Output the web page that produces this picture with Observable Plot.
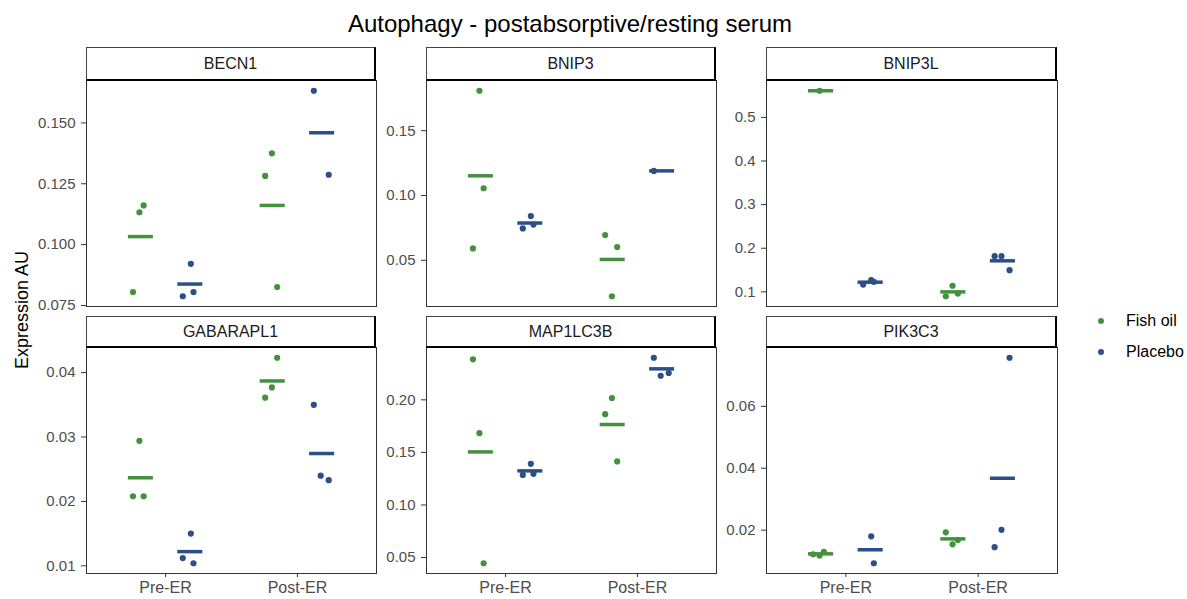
<!DOCTYPE html>
<html>
<head>
<meta charset="utf-8">
<script src="https://cdn.jsdelivr.net/npm/d3@7"></script>
<script src="https://cdn.jsdelivr.net/npm/@observablehq/plot@0.6"></script>
<style>
  body { margin: 0; background: #fff; font-family: "Liberation Sans", Arial, sans-serif; }
  #chart { position: relative; width: 1187px; height: 599px; overflow: hidden; }
  .title { position: absolute; left: 0; width: 1140px; top: 10px; text-align: center; font-size: 24px; color: #000; }
  .ylab { position: absolute; left: 22px; top: 310px; transform: translate(-50%, -50%) rotate(-90deg); font-size: 18px; color: #000; white-space: nowrap; }
  .strip { position: absolute; box-sizing: border-box; border: 1px solid #444; border-right: 2px solid #000; border-bottom: 2px solid #000;
           display: flex; align-items: center; justify-content: center; font-size: 16px; color: #1a1a1a; background: #fff; }
  .panel { position: absolute; }
  .legend { position: absolute; left: 1095px; top: 305px; font-size: 16px; color: #000; }
  .legend .item { display: flex; align-items: center; height: 31px; }
  .legend .dot { width: 6px; height: 6px; border-radius: 50%; margin: 0 22px 0 3px; }
</style>
</head>
<body>
<div id="chart"></div>
<script>
const genes = ["BECN1", "BNIP3", "BNIP3L", "GABARAPL1", "MAP1LC3B", "PIK3C3"];
const timepoints = ["Pre-ER", "Post-ER"];
const treatments = ["Fish oil", "Placebo"];
const treatmentColors = ["#43913f", "#2b5088"];

// Expression per gene: cells ordered Pre-ER/Fish oil, Pre-ER/Placebo, Post-ER/Fish oil, Post-ER/Placebo;
// three subjects per cell, null where no sample was measured.
const BECN1     = [[0.0805, 0.1133, 0.1161], [0.0788, 0.0921, 0.0805], [0.1282, 0.1375, 0.0826], [0.1632, null, 0.1287]];
const BNIP3     = [[0.0592, 0.1808, 0.1056], [0.0746, 0.0841, 0.0776], [0.0695, 0.0223, 0.0602], [0.1190, null, null]];
const BNIP3L    = [[null, 0.5610, null], [0.1167, 0.1268, 0.1231], [0.0900, 0.1140, 0.0960], [0.1819, 0.1819, 0.1498]];
const GABARAPL1 = [[0.0208, 0.0294, 0.0208], [0.0112, 0.0150, 0.0104], [0.0361, 0.0377, 0.0423], [0.0350, 0.0240, 0.0233]];
const MAP1LC3B  = [[0.2385, 0.1683, 0.0446], [0.1286, 0.1391, 0.1296], [0.1864, 0.2017, 0.1414], [0.2400, 0.2229, 0.2255]];
const PIK3C3    = [[0.0122, 0.0118, 0.0130], [null, 0.0180, 0.0093], [0.0193, 0.0154, 0.0168], [0.0145, 0.0201, 0.0757]];
const geneValues = [BECN1, BNIP3, BNIP3L, GABARAPL1, MAP1LC3B, PIK3C3];

// Horizontal spread of the subjects inside each cell (x units)
const jitter = [[-0.060, -0.011, 0.021], [-0.057, 0.004, 0.024], [-0.057, -0.006, 0.034], [-0.063, -0.011, 0.050]];

// Y tick values and label precision per gene
const yTicks = [
  [0.075, 0.100, 0.125, 0.150],
  [0.05, 0.10, 0.15],
  [0.1, 0.2, 0.3, 0.4, 0.5],
  [0.01, 0.02, 0.03, 0.04],
  [0.05, 0.10, 0.15, 0.20],
  [0.02, 0.04, 0.06]
];
const yDecimals = [3, 2, 1, 2, 2, 2];

// Panel grid geometry
const colLeft = [86, 426, 766];
const colWidth = [289, 289, 290];
const rowPlotTop = [80, 347];
const rowPlotHeight = [226, 226];
const rowStripTop = [47, 316];
const dodge = 0.1875;
const barHalf = 0.095;
const marginLeft = 62;

const chart = document.getElementById("chart");

const title = document.createElement("div");
title.className = "title";
title.textContent = "Autophagy - postabsorptive/resting serum";
chart.appendChild(title);

const ylab = document.createElement("div");
ylab.className = "ylab";
ylab.textContent = "Expression AU";
chart.appendChild(ylab);

function cellRows(g) {
  const pts = [], means = [];
  geneValues[g].forEach((vals, c) => {
    const t = Math.floor(c / 2), k = c % 2;
    const xc = t + 1 + (k ? dodge : -dodge);
    const present = [];
    vals.forEach((v, i) => {
      if (v != null) {
        pts.push({x: xc + jitter[c][i], y: v, treatment: treatments[k]});
        present.push(v);
      }
    });
    means.push({x1: xc - barHalf, x2: xc + barHalf, y: d3.mean(present), treatment: treatments[k]});
  });
  return {pts, means};
}

genes.forEach((gene, g) => {
  const r = Math.floor(g / 3), c = g % 3;
  const bottom = r === 1;
  const {pts, means} = cellRows(g);
  const [lo, hi] = d3.extent([...pts.map(d => d.y), ...means.map(d => d.y)]);
  const pad = (hi - lo) * 0.05;

  const strip = document.createElement("div");
  strip.className = "strip";
  strip.style.left = colLeft[c] + "px";
  strip.style.top = rowStripTop[r] + "px";
  strip.style.width = colWidth[c] + 1 + "px";
  strip.style.height = rowPlotTop[r] - rowStripTop[r] + 1 + "px";
  strip.textContent = gene;

  const fmt = d3.format(`.${yDecimals[g]}f`);
  const plot = Plot.plot({
    width: marginLeft + colWidth[c] + 2,
    height: rowPlotHeight[r] + 1 + (bottom ? 30 : 1),
    marginLeft,
    marginRight: 1,
    marginTop: 1,
    marginBottom: bottom ? 30 : 1,
    style: {fontFamily: "Liberation Sans, Arial, sans-serif", fontSize: "15px", color: "#4d4d4d", background: "transparent", overflow: "visible"},
    x: {domain: [0.4, 2.6], axis: null},
    y: {domain: [lo - pad, hi + pad], axis: null},
    color: {domain: treatments, range: treatmentColors},
    marks: [
      Plot.axisY({ticks: yTicks[g], tickFormat: fmt, tickSize: 5, tickPadding: 6, fontSize: 15, stroke: "#333", fill: "#4d4d4d", label: null}),
      bottom ? Plot.axisX({ticks: [1, 2], tickFormat: i => timepoints[i - 1], tickSize: 4, tickPadding: 4, fontSize: 16, stroke: "#333", fill: "#4d4d4d", label: null}) : null,
      Plot.frame({stroke: "#333", strokeWidth: 1}),
      Plot.dot(pts, {x: "x", y: "y", fill: "treatment", r: 3.1}),
      Plot.ruleY(means, {x1: "x1", x2: "x2", y: "y", stroke: "treatment", strokeWidth: 3.5})
    ]
  });
  plot.classList.add("panel");
  plot.style.left = colLeft[c] - marginLeft + "px";
  plot.style.top = rowPlotTop[r] - 1 + "px";
  chart.appendChild(plot);
  chart.appendChild(strip);
});

const legend = document.createElement("div");
legend.className = "legend";
treatments.forEach((name, i) => {
  const item = document.createElement("div");
  item.className = "item";
  const dot = document.createElement("span");
  dot.className = "dot";
  dot.style.background = treatmentColors[i];
  const label = document.createElement("span");
  label.textContent = name;
  item.appendChild(dot);
  item.appendChild(label);
  legend.appendChild(item);
});
chart.appendChild(legend);
</script>
</body>
</html>
